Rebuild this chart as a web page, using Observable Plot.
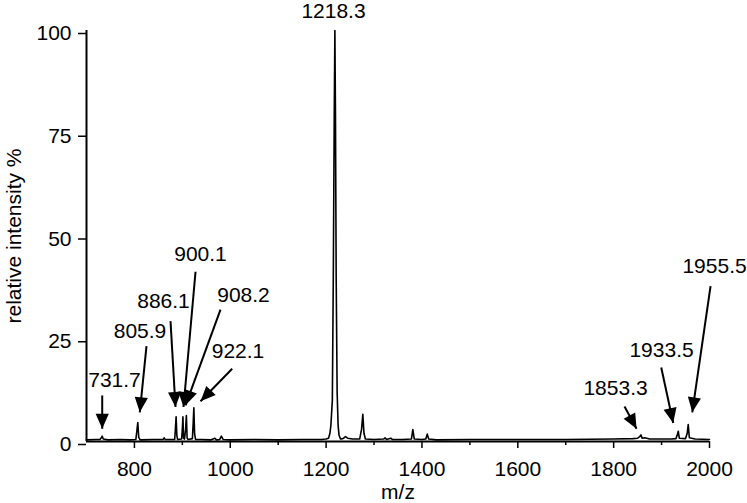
<!DOCTYPE html>
<html><head><meta charset="utf-8">
<script src="https://cdn.jsdelivr.net/npm/d3@7"></script>
<script src="https://cdn.jsdelivr.net/npm/@observablehq/plot@0.6"></script>
<style>body{margin:0;background:#fff;overflow:hidden}</style>
</head><body><div id="chart"></div>
<script>
// Spectrum (m/z, relative intensity %)
const mz = [700,720,728,731,732.8,735,745,770,790,803,805,807,809,812,840,860,862,864,884,885.5,887,888.5,890,898.5,900,901.2,902.5,904.5,906.8,908.4,910,912,921,922.6,924,925.5,927.5,940,960,968,971,978,981.5,985,1000,1050,1100,1150,1190,1200,1205,1208,1210,1213,1215,1217,1218.3,1219.5,1221,1223,1225,1227,1230,1235,1240.5,1245,1255,1270,1274,1276.6,1279,1282,1300,1320,1323,1326,1335,1338,1360,1378,1381,1384,1400,1408,1411,1414,1430,1500,1600,1700,1800,1840,1850,1854.5,1857,1859.5,1865,1875,1920,1930,1932.5,1934.8,1937,1950,1953.5,1955.6,1958,1970,2000];
const intensity = [0.4,0.5,0.5,0.9,1.3,0.6,0.4,0.5,0.4,0.5,2.5,4.6,1.0,0.4,0.5,0.5,0.9,0.5,0.5,3,6,1.5,0.5,0.6,3,6,0.8,0.6,3,6.3,0.8,0.5,0.7,4.5,8.2,2,0.5,0.5,0.4,0.8,0.4,0.5,1.3,0.5,0.4,0.5,0.4,0.5,0.5,0.6,0.8,2,4,10,40,80,100,80,40,12,4,1.5,0.6,0.7,1.2,0.8,0.6,0.6,3,6.6,2,0.6,0.5,0.6,0.9,0.5,0.8,0.5,0.5,0.6,2.9,0.6,0.5,0.6,1.8,0.6,0.4,0.5,0.5,0.5,0.6,0.7,0.8,1.2,1.6,0.8,0.9,0.6,0.6,0.7,1.5,2.5,0.8,0.7,2,4.1,0.9,0.6,0.5];

// Peak labels
const labelText = ["731.7","805.9","886.1","900.1","908.2","922.1","1218.3","1853.3","1933.5","1955.5"];
const labelX = [758.4,811.6,860.7,937.9,1027.6,1016.1,1215.4,1803.9,1899.9,2010.5];
const labelY = [14.9,26.8,34.0,45.6,35.7,21.9,104.6,13.0,22.1,42.7];

// Arrows (tail -> tip), in data units
const arrowX1 = [732.8,825.2,875.3,927.5,979.6,1004.0,1822.7,1899.3,2002.2];
const arrowY1 = [11.2,23.2,29.3,41.3,32.1,17.7,8.5,18.0,37.8];
const arrowX2 = [732.8,811.2,885.7,902.4,906.6,937.9,1847.8,1924.3,1964.0];
const arrowY2 = [3.1,7.1,8.4,8.4,8.8,9.8,3.1,4.5,7.1];

// Axis ticks
const xMajorTicks = [800,1000,1200,1400,1600,1800,2000];
const xMinorTicks = [900,1100,1300,1500,1700,1900];
const yTicks = [0,25,50,75,100];

const W = 747, H = 503;
const mL = 86, mR = 38, mT = 30, mB = 62;
const xDomain = [700, 2000], yDomain = [0, 100];

const spectrum = mz.map((m, i) => ({mz: m, v: intensity[i]}));
const labels = labelText.map((t, i) => ({text: t, x: labelX[i], y: labelY[i]}));

// pixel-space helpers (same domain/range as the plot) to orient arrow heads
const px = d3.scaleLinear(xDomain, [mL, W - mR]);
const py = d3.scaleLinear(yDomain, [H - mB, mT]);
const arrows = arrowX1.map((x1, i) => {
  const dx = px(arrowX2[i]) - px(x1), dy = py(arrowY2[i]) - py(arrowY1[i]);
  return {x1, y1: arrowY1[i], x2: arrowX2[i], y2: arrowY2[i], angle: Math.atan2(dx, -dy) * 180 / Math.PI};
});

const headSymbol = {
  draw(ctx, size) {
    const r = Math.sqrt(size / Math.PI);
    const h = 2.5 * r, w = 1.1 * r;
    ctx.moveTo(0, 0);
    ctx.lineTo(-w, h);
    ctx.lineTo(w, h);
    ctx.closePath();
  }
};

const chart = Plot.plot({
  width: W, height: H,
  marginLeft: mL, marginRight: mR, marginTop: mT, marginBottom: mB,
  style: {fontFamily: "'Liberation Sans', Arial, sans-serif", fontSize: "21px", background: "#fff", color: "#000", overflow: "visible"},
  x: {domain: xDomain},
  y: {domain: yDomain},
  marks: [
    Plot.line(spectrum, {x: "mz", y: "v", stroke: "#000", strokeWidth: 1.6}),
    Plot.ruleY([0], {stroke: "#000", strokeWidth: 2}),
    Plot.ruleX([700], {y1: 0, y2: 100, stroke: "#000", strokeWidth: 2}),
    Plot.link(arrows, {x1: "x1", y1: "y1", x2: "x2", y2: "y2", stroke: "#000", strokeWidth: 2}),
    Plot.dot(arrows, {x: "x2", y: "y2", symbol: headSymbol, r: 6, fill: "#000", stroke: "none", rotate: "angle"}),
    Plot.text(labels, {x: "x", y: "y", text: "text", fill: "#000", fontSize: 21}),
    Plot.axisX(xMajorTicks, {tickSize: 7, tickPadding: 13, strokeWidth: 1.5, tickFormat: d => String(d), label: "m/z", labelAnchor: "center", labelOffset: 57, labelArrow: false}),
    Plot.axisX(xMinorTicks, {tickSize: 4, strokeWidth: 1.5, tickFormat: () => "", label: null}),
    Plot.axisY(yTicks, {tickSize: 8, tickPadding: 7, dy: 3, strokeWidth: 1.5, tickFormat: d => String(d), label: "relative intensity %", labelAnchor: "center", labelOffset: 80, labelArrow: false})
  ]
});
document.getElementById("chart").appendChild(chart);
</script>
</body></html>
